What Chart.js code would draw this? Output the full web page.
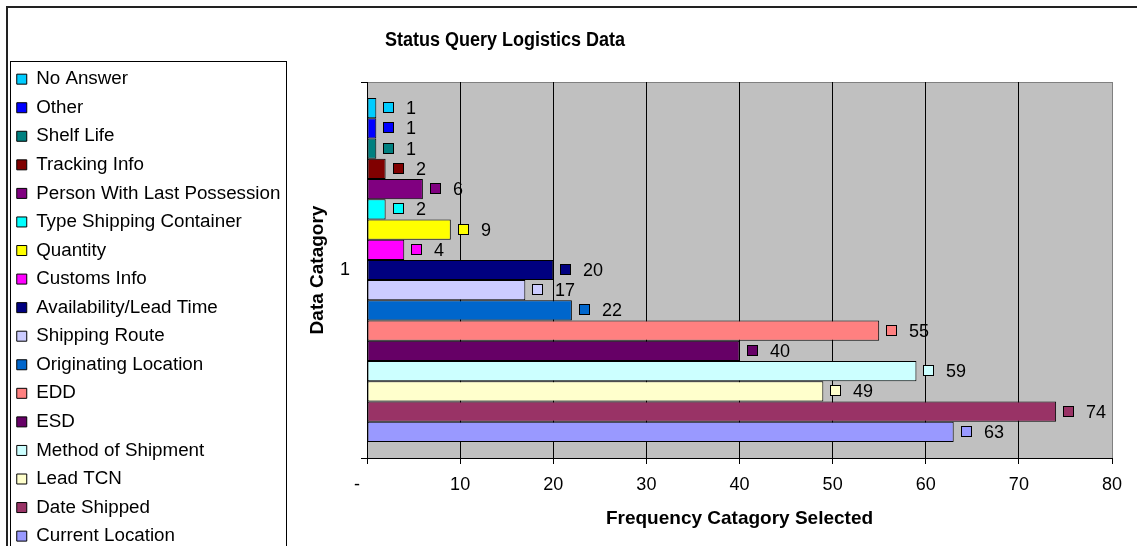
<!DOCTYPE html>
<html>
<head>
<meta charset="utf-8">
<title>Status Query Logistics Data</title>
<script src="https://cdn.jsdelivr.net/npm/chart.js@4.4.1/dist/chart.umd.min.js"></script>
<style>
    html, body { margin: 0; padding: 0; background: #fff; overflow: hidden; }
    .chart-wrap { position: relative; width: 1137px; height: 600px; }
</style>
</head>
<body>
<div class="chart-wrap"><canvas id="myChart"></canvas></div>
<script>
const chartTitle = 'Status Query Logistics Data';
const categories = ['1'];
const seriesNames = [
    'No Answer', 'Other', 'Shelf Life', 'Tracking Info', 'Person With Last Possession',
    'Type Shipping Container', 'Quantity', 'Customs Info', 'Availability/Lead Time',
    'Shipping Route', 'Originating Location', 'EDD', 'ESD', 'Method of Shipment',
    'Lead TCN', 'Date Shipped', 'Current Location'
];
const seriesValues = [1, 1, 1, 2, 6, 2, 9, 4, 20, 17, 22, 55, 40, 59, 49, 74, 63];
const seriesColors = [
    '#00ccff', '#0000ff', '#008080', '#800000', '#800080',
    '#00ffff', '#ffff00', '#ff00ff', '#000080',
    '#ccccff', '#0066cc', '#ff8080', '#660066', '#ccffff',
    '#ffffcc', '#993366', '#9999ff'
];
const xTickLabels = ['-    ', '10', '20', '30', '40', '50', '60', '70', '80'];

const FONT = '"Liberation Sans", Arial, sans-serif';
Chart.defaults.font.family = FONT;
Chart.defaults.color = '#000';

// grey plot area, frames and the title
const plotBackground = {
    id: 'plotBackground',
    beforeDraw(chart) {
        const ctx = chart.ctx;
        const a = chart.chartArea;
        ctx.save();
        ctx.strokeStyle = '#222';
        ctx.lineWidth = 2;
        ctx.strokeRect(7, 7, chart.width + 20, chart.height);
        ctx.lineWidth = 1;
        ctx.strokeStyle = '#000';
        ctx.strokeRect(10.5, 61.5, 276, chart.height);
        ctx.fillStyle = '#c0c0c0';
        ctx.fillRect(a.left, a.top, a.right - a.left, a.bottom - a.top);
        ctx.strokeStyle = '#808080';
        ctx.beginPath();
        ctx.moveTo(a.left, a.top + 0.5);
        ctx.lineTo(a.right, a.top + 0.5);
        ctx.stroke();
        // title is a little narrower than plain bold
        ctx.fillStyle = '#000';
        ctx.font = 'bold 20px ' + FONT;
        ctx.textAlign = 'center';
        ctx.textBaseline = 'middle';
        ctx.translate(505, 40);
        ctx.scale(0.9, 1);
        ctx.fillText(chartTitle, 0, 0);
        ctx.restore();
    }
};

// small coloured square + value after each bar
const valueLabels = {
    id: 'valueLabels',
    afterDatasetsDraw(chart) {
        const ctx = chart.ctx;
        ctx.save();
        ctx.font = '18px ' + FONT;
        ctx.textAlign = 'left';
        ctx.textBaseline = 'middle';
        chart.data.datasets.forEach(function(ds, i) {
            const bar = chart.getDatasetMeta(i).data[0];
            const x = Math.round(bar.x);
            const y = Math.round(bar.y);
            ctx.fillStyle = ds.backgroundColor;
            ctx.fillRect(x + 7.5, y - 5.5, 10, 10);
            ctx.strokeStyle = '#000';
            ctx.lineWidth = 1;
            ctx.strokeRect(x + 7.5, y - 5.5, 10, 10);
            ctx.fillStyle = '#000';
            ctx.fillText(String(ds.data[0]), x + 30, y + 1);
        });
        ctx.restore();
    }
};

const datasets = seriesNames.map(function(name, i) {
    return {
        label: name,
        data: [seriesValues[i]],
        backgroundColor: seriesColors[i],
        borderColor: '#000',
        borderWidth: 1,
        borderSkipped: false,
        categoryPercentage: 0.915,
        barPercentage: 1
    };
});

let ctx = document.getElementById('myChart').getContext('2d');
let chart = new Chart(ctx, {
    type: 'bar',
    data: {
        labels: categories,
        datasets: datasets
    },
    plugins: [plotBackground, valueLabels],
    options: {
        indexAxis: 'y',
        responsive: true,
        maintainAspectRatio: false,
        animation: false,
        layout: {
            padding: { top: 60, left: 7, right: 25, bottom: 22 }
        },
        plugins: {
            title: {
                // spacer only, the real title is drawn by plotBackground
                display: true,
                text: '',
                fullSize: false,
                padding: 0,
                font: { size: 22, lineHeight: 1 }
            },
            legend: {
                position: 'left',
                align: 'start',
                maxWidth: 276,
                labels: {
                    boxWidth: 10,
                    boxHeight: 10,
                    padding: 9.76,
                    font: { size: 18.8 }
                }
            },
            tooltip: { enabled: false }
        },
        scales: {
            x: {
                min: 0,
                max: 80,
                ticks: {
                    stepSize: 10,
                    padding: 10,
                    font: { size: 18 },
                    callback: function(value, index) {
                        return xTickLabels[index];
                    }
                },
                grid: {
                    color: function(c) {
                        return c.tick && c.tick.value === 80 ? '#808080' : '#000';
                    },
                    tickColor: '#000',
                    tickLength: 6
                },
                border: { display: true, color: '#000' },
                title: {
                    display: true,
                    text: 'Frequency Catagory Selected',
                    font: { size: 19, weight: 'bold' },
                    padding: { top: 0, bottom: 48 }
                },
                afterFit: function(scale) {
                    scale.height = 120;
                }
            },
            y: {
                ticks: {
                    padding: 11,
                    font: { size: 18 }
                },
                grid: {
                    offset: true,
                    drawOnChartArea: false,
                    color: '#000',
                    tickLength: 6
                },
                border: { display: true, color: '#000' },
                title: {
                    display: true,
                    text: 'Data Catagory',
                    font: { size: 19, weight: 'bold' },
                    padding: { top: 23, bottom: 0 }
                },
                afterFit: function(scale) {
                    scale.width = 360 - scale.chart.legend.width;
                }
            }
        }
    }
});
</script>
</body>
</html>
